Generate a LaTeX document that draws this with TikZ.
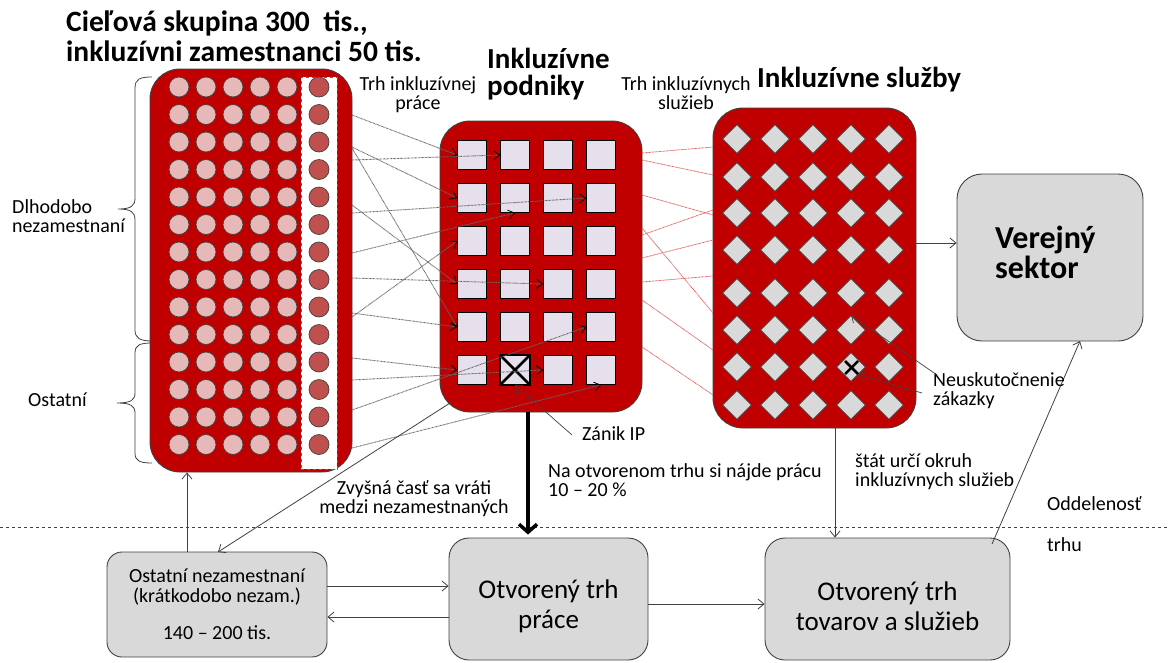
\documentclass[tikz,border=0pt]{standalone}
\usepackage{fontspec}
\setmainfont{Carlito}
\usetikzlibrary{arrows.meta,calc,shapes.geometric}
\definecolor{dred}{HTML}{C00000}
\definecolor{pinkc}{HTML}{E6B9B8}
\definecolor{darkc}{HTML}{C0504D}
\definecolor{lav}{HTML}{E6E0EC}
\definecolor{lgray}{HTML}{D9D9D9}
\definecolor{edge}{HTML}{404040}
\definecolor{redln}{HTML}{E05555}
\begin{document}
\begin{tikzpicture}[x=1pt,y=-1pt,
 blk/.style={draw=edge,line width=0.9pt,fill=dred,rounded corners=30pt,inner sep=0},
 gbox/.style={draw=edge,line width=0.9pt,fill=lgray,inner sep=0},
 pc/.style={circle,draw=edge,fill=pinkc,minimum size=20pt,inner sep=0,line width=0.7pt},
 dc/.style={pc,fill=darkc},
 sqr/.style={draw=black,fill=lav,minimum size=29pt,inner sep=0,line width=0.7pt},
 dmd/.style={diamond,draw=edge,fill=lgray,minimum size=29pt,inner sep=0,line width=0.6pt},
 conn/.style={draw=black!60,dash pattern=on 0.8pt off 0.6pt,line width=0.9pt,
   -{Straight Barb[length=6pt,width=9pt,color=black,line width=0.8pt]}},
 rconn/.style={draw=redln,dash pattern=on 0.8pt off 0.6pt,line width=0.8pt},
 arr/.style={draw=edge,line width=0.8pt,-{Straight Barb[length=6pt,width=10pt]}},
 lbl/.style={font=\fontsize{20}{19}\selectfont,inner sep=0,align=left},
 ttl/.style={font=\bfseries\fontsize{29.5}{30}\selectfont,inner sep=0,align=left},
 hdr/.style={font=\bfseries\fontsize{29}{27}\selectfont,inner sep=0,align=left},
 big/.style={font=\fontsize{27}{30}\selectfont,inner sep=0,align=center},
 brc/.style={draw=edge,line width=0.8pt}
]
\useasboundingbox (0,0) rectangle (1169,662);

% separation line
\coordinate (dl1) at (0,527);
\coordinate (dl2) at (1169,527);
\draw[dashed,edge,line width=0.8pt] (dl1) -- (dl2);

% ---------- left block ----------
\node[blk,minimum width=202pt,minimum height=403pt] (lb) at (251,270.5) {};
\node[draw=edge!80,dashed,fill=white,line width=0.7pt,minimum width=36pt,minimum height=392pt,inner sep=0] (wstrip) at (319,273) {};
\foreach \r in {0,...,13}{
  \foreach \c in {0,...,4}{
    \node[pc] (c-\r-\c) at ({179+27*\c},{87+27.5*\r}) {};
  }
  \node[dc] (d-\r) at (319,{87+27.5*\r}) {};
}

% braces
\draw[brc] (152,77) .. controls (140,77) and (135,79) .. (135,88) -- (135,198)
  .. controls (135,206) and (131,209) .. (118,209)
  .. controls (131,209) and (135,212) .. (135,220) -- (135,330)
  .. controls (135,338) and (140,341) .. (152,341);
\draw[brc] (152,343) .. controls (140,343) and (135,345) .. (135,353) -- (135,393)
  .. controls (135,400) and (131,403) .. (117,403)
  .. controls (131,403) and (135,406) .. (135,413) -- (135,453)
  .. controls (135,461) and (140,463) .. (152,463);

% ---------- middle block ----------
\node[blk,minimum width=202pt,minimum height=291pt] (mb) at (541,266.5) {};
\foreach \r in {1,...,6}
  \foreach \c in {1,...,4}
    \node[sqr] (sq-\r-\c) at ({472+43*(\c-1)},{155+43*(\r-1)}) {};
\draw[line width=2pt] (sq-6-2.north west) rectangle (sq-6-2.south east);
\draw[line width=2.5pt] (sq-6-2.north west) -- (sq-6-2.south east)
  (sq-6-2.north east) -- (sq-6-2.south west);

% ---------- right block ----------
\node[blk,minimum width=203pt,minimum height=320pt] (rb) at (814.5,268) {};
\foreach \y [count=\r] in {139,177,213,250,293,330,367,405}
  \foreach \c in {1,...,5}
    \node[dmd] (dm-\r-\c) at ({737+38*(\c-1)},\y) {};
\draw[line width=2.5pt] ($(dm-7-4.center)+(-6,-6)$) -- ($(dm-7-4.center)+(7,7)$)
  ($(dm-7-4.center)+(7,-6)$) -- ($(dm-7-4.center)+(-6,7)$);

% ---------- connectors left -> middle ----------
\foreach \y/\t [count=\i] in {115/sq-1-1.west,160/sq-1-2.west,147/sq-2-1.west,148/sq-5-1.west,
   213/sq-2-4.west,253/sq-2-2.south,317/sq-3-1.west,205/sq-4-1.west,278/sq-4-3.west,
   313/sq-5-1.west,358/sq-6-1.west,380/sq-6-3.west,410/sq-5-4.west,448/sq-6-4.south}{
  \coordinate (ls\i) at (352,\y);
  \draw[conn] (ls\i) -- (\t);
}

% ---------- connectors middle -> right ----------
\foreach \a/\b [count=\i] in {153/147,160/175,195/215,235/210,228/313,282/276,300/350,347/395,258/240}{
  \coordinate (ma\i) at (642,\a);
  \coordinate (rb\i) at (713,\b);
  \draw[rconn] (ma\i) -- (rb\i);
}

% ---------- gray boxes ----------
\node[gbox,rounded corners=25pt,minimum width=186pt,minimum height=167pt] (ver) at (1050,257.5) {};
\node[font=\bfseries\fontsize{32}{30}\selectfont,inner sep=0,align=left,anchor=north west] (vert) at (995,226) {Verejný\\sektor};

\node[gbox,rounded corners=15pt,minimum width=220pt,minimum height=105pt,align=center,
  font=\fontsize{20}{20}\selectfont] (os) at (217,604.5)
  {Ostatní nezamestnaní\\(krátkodobo nezam.)\\[17pt]140 – 200 tis.};

\node[gbox,rounded corners=20pt,minimum width=199pt,minimum height=122pt] (otp) at (548.5,599) {};
\node[big] (otpt) at (548.5,606) {Otvorený trh\\práce};
\node[gbox,rounded corners=20pt,minimum width=245pt,minimum height=122pt] (ots) at (887.5,599) {};
\node[big] (otst) at (887.5,606) {Otvorený trh\\tovarov a služieb};

% ---------- arrows ----------
\coordinate (rbv) at (916,243);
\draw[arr] (rbv) -- (rbv -| ver.west);

\coordinate (thk) at (528,412);
\draw[line width=3.5pt,-{Straight Barb[length=8pt,width=18pt]}] (thk) -- ($(thk |- otp.north)+(0,-3)$);

\coordinate (rbd) at (835,428);
\draw[arr] (rbd) -- (rbd |- ots.north);

\coordinate (ost) at (992,544);
\coordinate (vbt) at (1080,341);
\draw[arr] (ost) -- (vbt);

\coordinate (osu) at (187,552);
\draw[arr] (osu) -- (osu |- lb.south);

\coordinate (mbl) at (450,403);
\coordinate (osn) at (218,552);
\draw[arr] (mbl) -- (osn);

\coordinate (o1) at (327,586);
\draw[arr] (o1) -- (o1 -| otp.west);
\coordinate (o2) at (449,617);
\draw[arr] (o2) -- (o2 -| os.east);
\coordinate (o3) at (648,604);
\draw[arr] (o3) -- (o3 -| ots.west);

% ---------- labels ----------
\node[ttl,anchor=north west] (title) at (66,11) {Cieľová skupina 300\ \ tis.,\\inkluzívni zamestnanci 50 tis.};
\node[hdr,anchor=north west] (hmid) at (487,48) {Inkluzívne\\podniky};
\node[hdr,anchor=north west] (hright) at (757,67) {Inkluzívne služby};
\node[lbl,align=center,anchor=north] (trh1) at (418,76) {Trh inkluzívnej\\práce};
\node[lbl,align=center,anchor=north] (trh2) at (686,76) {Trh inkluzívnych\\služieb};
\node[lbl,anchor=north west] (dlh) at (12,199) {Dlhodobo\\nezamestnaní};
\node[lbl,anchor=west] (ost2) at (28,400) {Ostatní};
\node[lbl,anchor=north west] (neu) at (933,372) {Neuskutočnenie\\zákazky};
\node[lbl,anchor=north west] (zan) at (582,426) {Zánik IP};
\node[lbl,anchor=north west] (naot) at (548,463) {Na otvorenom trhu si nájde prácu\\10 – 20 \%};
\node[lbl,anchor=north west] (stat) at (855,453) {štát určí okruh\\inkluzívnych služieb};
\node[lbl,align=center,anchor=north] (zvy) at (414,480) {Zvyšná časť sa vráti\\medzi nezamestnaných};
\node[lbl,anchor=north west] (odd) at (1047,496) {Oddelenosť};
\node[lbl,anchor=north west] (trhu) at (1047,537) {trhu};

% label arrows
\coordinate (n1) at (937,375);
\draw[arr,line width=0.7pt] (n1) -- (dm-6-4.north);
\coordinate (n2) at (922,393);
\draw[arr,line width=0.7pt] (n2) -- (dm-7-4.south east);
\coordinate (z1) at (572,435);
\draw[arr,line width=0.7pt] (z1) -- (sq-6-2.south);
\end{tikzpicture}
\end{document}
